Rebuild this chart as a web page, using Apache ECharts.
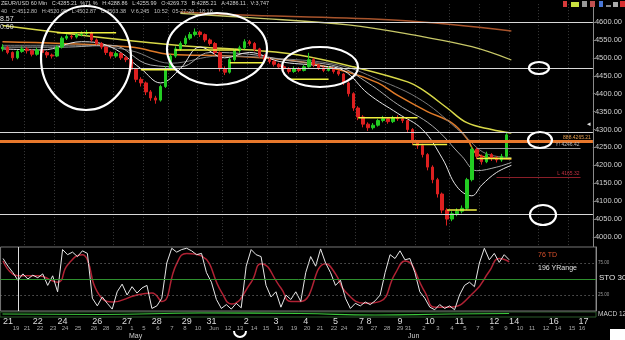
<!DOCTYPE html>
<html>
<head>
<meta charset="utf-8">
<title>60 Min</title>
<script src="https://cdn.jsdelivr.net/npm/echarts@6/dist/echarts.min.js"></script>
<style>
html, body { margin: 0; padding: 0; background: #000; }
#chart { width: 625px; height: 340px; }
</style>
</head>
<body>
<div id="chart"></div>
<script>
// 60 min bars
const closes = [4530,4515,4500,4518,4525,4520,4510,4522,4515,4508,
  4505,4530,4555,4560,4558,4565,4568,4570,4550,4540,
  4530,4515,4505,4512,4500,4495,4468,4440,4430,4405,
  4388,4382,4420,4470,4505,4525,4540,4555,4565,4572,
  4565,4550,4540,4515,4470,4460,4495,4520,4528,4545,
  4540,4525,4505,4495,4490,4482,4475,4470,4462,4470,
  4465,4475,4495,4480,4472,4465,4470,4462,4455,4430,
  4400,4360,4335,4315,4305,4312,4325,4330,4322,4332,
  4330,4325,4300,4265,4255,4230,4195,4160,4120,4075,
  4050,4065,4072,4080,4160,4245,4225,4210,4230,4220,
  4215,4225,4285]
const highs = [4538,4534,4518,4522,4532,4530,4524,4528,4526,4519,
  4512,4535,4560,4566,4565,4570,4574,4578,4573,4554,
  4544,4533,4518,4518,4515,4505,4498,4472,4446,4434,
  4410,4394,4425,4476,4510,4532,4546,4562,4572,4582,
  4576,4568,4554,4544,4518,4476,4500,4526,4534,4552,
  4550,4544,4528,4510,4500,4494,4486,4480,4474,4476,
  4474,4480,4514,4500,4484,4476,4476,4474,4466,4458,
  4434,4404,4365,4340,4320,4318,4330,4338,4334,4338,
  4340,4334,4328,4304,4270,4260,4234,4200,4165,4124,
  4080,4072,4080,4088,4165,4252,4250,4230,4238,4234,
  4226,4232,4290]
const lows = [4518,4510,4492,4496,4514,4512,4504,4506,4510,4500,
  4498,4502,4526,4550,4552,4554,4560,4562,4545,4535,
  4524,4508,4498,4500,4494,4488,4460,4432,4420,4396,
  4380,4372,4378,4416,4465,4500,4520,4535,4550,4560,
  4558,4544,4534,4508,4462,4452,4456,4490,4514,4524,
  4534,4518,4500,4490,4484,4476,4470,4464,4456,4458,
  4460,4462,4472,4474,4466,4460,4462,4456,4450,4424,
  4392,4352,4326,4306,4296,4300,4308,4320,4316,4318,
  4324,4318,4292,4258,4246,4222,4186,4150,4110,4066,
  4032,4044,4058,4066,4076,4155,4218,4202,4206,4212,
  4208,4210,4220]
const firstOpen = 4525

// moving averages: bar index / price
const brownX = [36, 50, 80, 103]
const brownY = [4628, 4619, 4605, 4575]
const longYX = [36, 50, 70, 85, 95, 103]
const longYY = [4624, 4612, 4592, 4559, 4531, 4494]
const yellowX = [0, 12, 26, 40, 52, 60, 71, 82, 85, 90, 94, 99, 103]
const yellowY = [4590, 4570, 4548, 4530, 4520, 4508, 4475, 4433, 4411, 4360, 4319, 4300, 4290]
const orangeX = [0, 12, 26, 34, 46, 60, 70, 76, 80, 86, 91, 94, 96, 100, 103]
const orangeY = [4545, 4540, 4530, 4510, 4505, 4490, 4460, 4430, 4395, 4350, 4318, 4275, 4232, 4220, 4218]
const w1X = [0, 8, 16, 22, 28, 32, 36, 40, 45, 50, 56, 64, 69, 74, 80, 85, 89, 92, 95, 97, 100, 103]
const w1Y = [4525, 4522, 4545, 4530, 4470, 4430, 4470, 4530, 4500, 4515, 4490, 4478, 4465, 4400, 4345, 4300, 4220, 4140, 4115, 4145, 4180, 4200]
const w2X = [0, 12, 22, 30, 36, 42, 50, 58, 68, 74, 80, 87, 93, 96, 100, 103]
const w2Y = [4530, 4530, 4535, 4480, 4475, 4515, 4510, 4492, 4475, 4430, 4370, 4310, 4225, 4185, 4195, 4208]
const w3X = [0, 16, 26, 34, 44, 56, 68, 76, 85, 93, 98, 103]
const w3Y = [4535, 4535, 4520, 4485, 4505, 4498, 4480, 4440, 4380, 4290, 4232, 4222]

// short support / resistance segments
const segStart = [11, 28, 35, 46, 58, 72, 83, 90, 96]
const segEnd = [23, 35, 48, 53, 66, 84, 90, 96, 103]
const segPrice = [4570, 4467, 4522, 4486, 4440, 4333, 4258, 4075, 4219]

// horizontal levels
const levelPrices = [4600, 4472, 4292, 4064]
const orangeLevel = 4266
const yLevel = 4248
const lowLevel = 4166
const lastPrice = 4285.21

// stochastic
const stochK = [82,70,60,48,58,50,56,52,58,40,
  55,30,96,88,92,85,94,90,20,8,
  22,12,3,30,42,25,38,28,36,40,
  4,8,20,75,98,92,96,98,94,88,
  90,60,45,18,4,10,3,12,5,70,
  96,88,85,40,22,30,6,25,18,30,
  15,60,85,70,97,75,60,40,48,20,
  4,12,8,14,10,16,25,60,88,82,
  94,80,82,60,30,20,6,2,10,4,
  8,2,25,40,45,38,75,98,80,90,
  76,88,80]
const stochDX = [0,3,7,11,13,16,17,19,22,27,30,32,35,37,40,44,46,50,52,56,58,60,65,67,69,73,76,79,81,85,87,90,95,98,100,102]
const stochDY = [78,55,55,45,72,88,80,30,14,25,28,15,74,90,86,30,11,45,74,36,15,15,74,58,30,12,15,58,78,30,6,6,30,62,82,77]
const macdX = [0, 20, 40, 60, 75, 90, 102]
const macdY = [0.6, 0.5, 0.8, 0.7, 0.4, 0.6, 0.7]

// axis text
const dayIdx = [1,7,12,19,25,31,37,42,49,55,61,67,73,80,86,92,99,103,111,117]
const dayTxt = ['21','22','24','26','27','28','29','31','2','3','4','5','7 8','9','10','11','12','14','16','17']
const row2X = [16,27,40,53,65,78,94,106,119,132,144,158,172,185,198,214,228,240,254,266,280,294,307,320,334,344,360,374,387,400,408,424,438,452,465,478,492,506,520,532,546,558,572,582]
const row2T = ['19','21','22','23','24','25','26','28','30','1','5','6','7','8','10','Jun','12','13','14','15','16','19','20','21','22','24','26','27','28','29','31','2','3','4','5','7','8','9','10','11','12','14','15','16']
const sepIdx = [5,11,17,23,29,34,40,45,50,54,60,66,72,78,84,91,97,103,109,115]

const FONT = 'Liberation Sans, Arial, sans-serif'
const cats = Array.from({ length: 120 }, (_, i) => String(i))
const opens = [firstOpen].concat(closes.slice(0, -1))
const candles = closes.map((c, i) => [opens[i], c, lows[i], highs[i]])
const pairs = (xs, ys) => xs.map((x, i) => [x, ys[i]])
const dayMap = {}
dayIdx.forEach((d, i) => { dayMap[d] = dayTxt[i] })

function ma(xs, ys, color, width) {
  return {
    type: 'line', xAxisIndex: 0, yAxisIndex: 0, data: pairs(xs, ys),
    smooth: 0.4, symbol: 'none', silent: true, z: 3,
    lineStyle: { color: color, width: width }
  }
}

const series = [
  {
    type: 'candlestick', xAxisIndex: 0, yAxisIndex: 0, data: candles, barWidth: 3, z: 4,
    itemStyle: { color: '#22cc22', color0: '#dd2020', borderColor: '#22cc22', borderColor0: '#dd2020', borderWidth: 1 },
    markLine: {
      symbol: 'none', silent: true, animation: false,
      label: { show: false },
      data: levelPrices.map(p => ({ yAxis: p, lineStyle: { color: '#d8d8d8', width: 1.2, type: 'solid' } })).concat([
        { yAxis: orangeLevel, lineStyle: { color: '#e8782c', width: 3, type: 'solid' },
          label: { show: true, position: 'insideEndTop', formatter: '888.4265.21', color: '#e8a050', fontSize: 5, distance: 2 } },
        [{ coord: [96, yLevel], lineStyle: { color: '#9a9a9a', width: 1, type: 'solid' },
          label: { show: true, position: 'insideEndTop', formatter: 'Y! 4246.42', color: '#bbb', fontSize: 5, distance: 1 } },
          { coord: [117, yLevel] }],
        [{ coord: [100, lowLevel], lineStyle: { color: '#8a1e28', width: 1, type: 'solid' },
          label: { show: true, position: 'insideEndTop', formatter: 'L 4165.32', color: '#c03040', fontSize: 5, distance: 1 } },
          { coord: [117, lowLevel] }],
        { yAxis: lastPrice, lineStyle: { opacity: 0 },
          label: { show: true, position: 'end', distance: 2, formatter: '4285.21', backgroundColor: '#fff', color: '#000', fontSize: 9, fontFamily: FONT, padding: [1, 1] } }
      ])
    }
  },
  ma(brownX, brownY, '#a8542c', 1.5),
  ma(longYX, longYY, '#c8c868', 1.3),
  ma(yellowX, yellowY, '#d8d848', 1.5),
  ma(orangeX, orangeY, '#e07a28', 1.5),
  ma(w3X, w3Y, '#7a7a7a', 1),
  ma(w2X, w2Y, '#aaaaaa', 1),
  ma(w1X, w1Y, '#e6e6e6', 1)
]

segStart.forEach((s, i) => {
  series.push({
    type: 'line', xAxisIndex: 0, yAxisIndex: 0, symbol: 'none', silent: true, z: 5,
    data: [[s, segPrice[i]], [segEnd[i], segPrice[i]]],
    lineStyle: { color: '#f0f040', width: 1.5 }
  })
})

series.push({
  type: 'line', xAxisIndex: 1, yAxisIndex: 1, data: stochK, symbol: 'none', silent: true, z: 4,
  lineStyle: { color: '#e8e8e8', width: 1 },
  markLine: {
    symbol: 'none', silent: true, animation: false, label: { show: false },
    data: [
      { yAxis: 75, lineStyle: { color: '#888', width: 1, type: [1, 3] } },
      { yAxis: 25, lineStyle: { color: '#888', width: 1, type: [1, 3] } },
      { yAxis: 50, lineStyle: { color: '#2e8f2e', width: 1, type: 'solid' } },
      { xAxis: 3, lineStyle: { color: '#ddd', width: 1, type: 'solid' } }
    ]
  }
})
series.push({
  type: 'line', xAxisIndex: 1, yAxisIndex: 1, data: pairs(stochDX, stochDY), smooth: 0.5,
  symbol: 'none', silent: true, z: 3, lineStyle: { color: '#b02234', width: 1.5 }
})
series.push({
  type: 'line', xAxisIndex: 2, yAxisIndex: 2, data: pairs(macdX, macdY), smooth: true,
  symbol: 'none', silent: true, lineStyle: { color: '#3cc83c', width: 1.2 }
})

// annotations drawn on the picture
const rings = [[86, 58, 45, 52], [217, 49, 50, 36], [320, 67, 38, 20], [539, 68, 10, 6], [540, 140, 12, 8], [543, 215, 13, 10]]
const graphics = rings.map(r => ({
  type: 'ellipse', z: 50, silent: true,
  shape: { cx: r[0], cy: r[1], rx: r[2], ry: r[3] },
  style: { fill: null, stroke: '#fff', lineWidth: 2.2 }
}))
graphics.push({ type: 'arc', z: 50, shape: { cx: 240, cy: 331, r: 6, startAngle: 0, endAngle: Math.PI }, style: { stroke: '#fff', lineWidth: 2, fill: null } })

const txt = (x, y, s, color, size, extra) => Object.assign({
  type: 'text', x: x, y: y, z: 60, silent: true,
  style: { text: s, fill: color, fontSize: size, fontFamily: FONT }
}, extra || {})

graphics.push(
  txt(1, 0, 'ZEUR/USD 60 Min   C:4285.21  %71 %   H:4288.86   L:4255.99   O:4269.73   B:4285.21   A:4286.11   V:3,747', '#cfcfcf', 5.5),
  txt(1, 8, '40   C:4512.80   H:4520.95   L:4502.87   C:4503.38   V:6,245   10:52   05-27-26   18:18', '#bdbdbd', 5.5),
  txt(0, 16, '8.57', '#e0e0e0', 7),
  txt(0, 24, '0.60', '#e0e0e0', 7),
  txt(538, 252, '76 TD', '#d8502c', 7),
  txt(538, 265, '196 YRange', '#e0e0e0', 7),
  txt(599, 274, 'STO 30,', '#e8e8e8', 8),
  txt(598, 311, 'MACD 12', '#cfcfcf', 6.5),
  txt(129, 333, 'May', '#cfcfcf', 7),
  txt(408, 333, 'Jun', '#cfcfcf', 7),
  txt(587, 121, '\u25C2', '#e0e0e0', 7)
)
row2X.forEach((x, i) => graphics.push(txt(x, 325, row2T[i], '#a8a8a8', 6, { style: { text: row2T[i], fill: '#a8a8a8', fontSize: 6, fontFamily: FONT, align: 'center' } })))
graphics.push({ type: 'rect', z: 60, silent: true, shape: { x: 610, y: 329, width: 15, height: 11 }, style: { fill: '#fff' } })
const icons = [[563, '#d83a3a', 4, 6], [571, '#c8e040', 8, 5], [582, '#999', 5, 6], [590, '#c05050', 5, 6], [599, '#4a78d8', 4, 6], [606, '#888', 5, 2], [613, '#aaa', 5, 5], [620, '#d83030', 5, 6]]
icons.forEach(c => graphics.push({ type: 'rect', z: 60, silent: true, shape: { x: c[0], y: 7 - c[3], width: c[2], height: c[3] }, style: { fill: c[1] } }))

const chart = echarts.init(document.getElementById('chart'))
chart.setOption({
  backgroundColor: '#000',
  animation: false,
  textStyle: { fontFamily: FONT },
  grid: [
    { left: 0, right: 29, top: 4.1, height: 250.8 },
    { left: 0, right: 29, top: 247, height: 64, show: true, backgroundColor: '#000', borderColor: '#777', borderWidth: 1, z: 1 },
    { left: 0, right: 29, top: 312, height: 5, show: true, borderColor: '#2a5a2a', borderWidth: 1 }
  ],
  xAxis: [
    { type: 'category', gridIndex: 0, data: cats,
      axisLine: { show: false }, axisTick: { show: false }, axisLabel: { show: false },
      splitLine: { show: true, interval: (i) => sepIdx.indexOf(i) >= 0, lineStyle: { color: '#3a3a3a', type: [1, 2], width: 1 } } },
    { type: 'category', gridIndex: 1, data: cats, z: 2,
      axisLine: { show: false }, axisTick: { show: false }, splitLine: { show: false },
      axisLabel: { interval: 0, margin: 6, color: '#dcdcdc', fontSize: 9, formatter: (v, i) => dayMap[i] || '' } },
    { type: 'category', gridIndex: 2, data: cats, show: false }
  ],
  yAxis: [
    { type: 'value', gridIndex: 0, position: 'right', min: 3950, max: 4650, interval: 50, scale: true,
      axisLine: { show: true, lineStyle: { color: '#8a8a8a' } },
      axisTick: { show: true, length: 2, lineStyle: { color: '#8a8a8a' } },
      splitLine: { show: false },
      axisLabel: { margin: 2, color: '#d0d0d0', fontSize: 7.5, formatter: v => (v < 4000 || v > 4600) ? '' : v.toFixed(2) } },
    { type: 'value', gridIndex: 1, position: 'right', min: 0, max: 100, interval: 25, z: 2,
      axisLine: { show: true, lineStyle: { color: '#8a8a8a' } }, axisTick: { show: false },
      splitLine: { show: false },
      axisLabel: { margin: 2, color: '#9a9a9a', fontSize: 4.5, formatter: v => (v === 75 || v === 25) ? v.toFixed(2) : '' } },
    { type: 'value', gridIndex: 2, min: 0, max: 1, show: false }
  ],
  series: series,
  graphic: graphics
})
</script>
</body>
</html>
